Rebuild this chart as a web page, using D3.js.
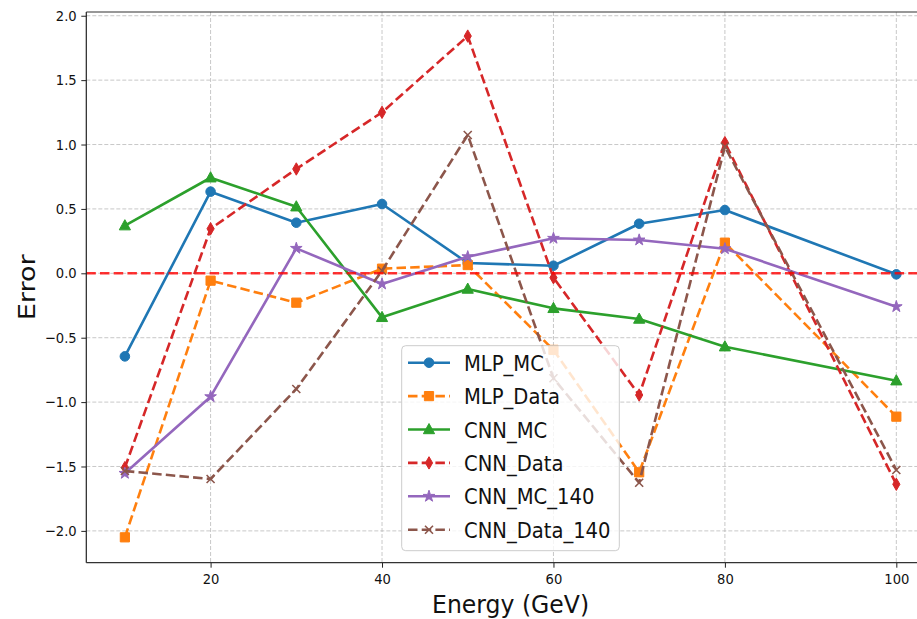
<!DOCTYPE html>
<html>
<head>
<meta charset="utf-8">
<script src="https://cdn.jsdelivr.net/npm/d3@7"></script>
<style>
  html, body { margin: 0; padding: 0; background: #fff; }
  svg { display: block; font-family: "DejaVu Sans", sans-serif; }
</style>
</head>
<body>
<svg id="chart" width="917" height="619"></svg>
<script>
// ---------------- data ----------------
const energies = [10, 20, 30, 40, 50, 60, 70, 80, 100];
const mlpMC       = [-0.645, 0.634, 0.393, 0.538, 0.080, 0.059, 0.385, 0.491, -0.008];
const mlpData     = [-2.050, -0.057, -0.228, 0.036, 0.064, -0.595, -1.545, 0.238, -1.113];
const cnnMC       = [0.370, 0.742, 0.517, -0.342, -0.122, -0.272, -0.355, -0.570, -0.834];
const cnnData     = [-1.509, 0.346, 0.810, 1.250, 1.842, -0.034, -0.945, 1.015, -1.638];
const cnnMC140    = [-1.553, -0.958, 0.194, -0.083, 0.129, 0.272, 0.259, 0.191, -0.259];
const cnnData140  = [-1.535, -1.597, -0.898, 0.020, 1.074, -0.815, -1.626, 0.983, -1.527];
const seriesNames = ["MLP_MC", "MLP_Data", "CNN_MC", "CNN_Data", "CNN_MC_140", "CNN_Data_140"];
const xTicks = [20, 40, 60, 80, 100];
const yTicks = [-2.0, -1.5, -1.0, -0.5, 0.0, 0.5, 1.0, 1.5, 2.0];
const xLabel = "Energy (GeV)";
const yLabel = "Error";

const seriesValues = [mlpMC, mlpData, cnnMC, cnnData, cnnMC140, cnnData140];
const colors = ["#1f77b4", "#ff7f0e", "#2ca02c", "#d62728", "#9467bd", "#8c564b"];
const dashed = [false, true, false, true, false, true];
const markers = ["circle", "square", "triangle", "thin_diamond", "star", "x"];

// ---------------- layout ----------------
const svg = d3.select("#chart");
const pLeft = 86.3, pRight = 934.9, pTop = 12, pBottom = 562.7;
const x = d3.scaleLinear().domain([5.5, 104.5]).range([pLeft, pRight]);
const y = d3.scaleLinear().domain([-2.247, 2.029]).range([pBottom, pTop]);
const SX = 0.9;

// grid
const grid = svg.append("g");
grid.selectAll(".gx").data(xTicks).join("line")
  .attr("x1", d => x(d)).attr("x2", d => x(d))
  .attr("y1", pTop).attr("y2", pBottom)
  .attr("stroke", "#b0b0b0").attr("stroke-opacity", 0.7)
  .attr("stroke-width", 1).attr("stroke-dasharray", "4,2");
grid.selectAll(".gy").data(yTicks).join("line")
  .attr("x1", pLeft).attr("x2", pRight)
  .attr("y1", d => y(d)).attr("y2", d => y(d))
  .attr("stroke", "#b0b0b0").attr("stroke-opacity", 0.7)
  .attr("stroke-width", 1).attr("stroke-dasharray", "4,2");

// marker generator
function markerPath(type) {
  switch (type) {
    case "circle": return d3.symbol(d3.symbolCircle, 72)();
    case "square": return "M-4.6,-4.6H4.6V4.6H-4.6Z";
    case "triangle": return "M0,-6L5.6,4.2H-5.6Z";
    case "thin_diamond": return "M0,-6.2L3.6,0L0,6.2L-3.6,0Z";
    case "star": return d3.symbol(d3.symbolStar, 42)();
    case "x": return "M-4,-4L4,4M-4,4L4,-4";
  }
}

const line = d3.line().x(d => x(d[0])).y(d => y(d[1]));
const plot = svg.append("g");
seriesValues.forEach((vals, i) => {
  const pts = energies.map((e, k) => [e, vals[k]]);
  const g = plot.append("g");
  g.append("path").datum(pts)
    .attr("d", line).attr("fill", "none")
    .attr("stroke", colors[i]).attr("stroke-width", 2.6)
    .attr("stroke-linejoin", "round")
    .attr("stroke-dasharray", dashed[i] ? "9.5,4.2" : null);
  g.selectAll("path.m").data(pts).join("path")
    .attr("class", "m")
    .attr("transform", d => `translate(${x(d[0])},${y(d[1])})`)
    .attr("d", markerPath(markers[i]))
    .attr("fill", markers[i] === "x" ? "none" : colors[i])
    .attr("stroke", colors[i])
    .attr("stroke-width", markers[i] === "x" ? 1.6 : 1);
});

// zero line
svg.append("line")
  .attr("x1", pLeft).attr("x2", pRight)
  .attr("y1", y(0)).attr("y2", y(0))
  .attr("stroke", "#ff0000").attr("stroke-opacity", 0.8)
  .attr("stroke-width", 2.6).attr("stroke-dasharray", "9.5,4.2");

// axes
const xAxis = svg.append("g").attr("transform", `translate(0,${pBottom})`)
  .call(d3.axisBottom(x).tickValues(xTicks).tickFormat(d3.format("d")).tickSize(5).tickPadding(6.3));
const yAxis = svg.append("g").attr("transform", `translate(${pLeft},0)`)
  .call(d3.axisLeft(y).tickValues(yTicks).tickFormat(d => d3.format(".1f")(d).replace("-", "\u2212")).tickSize(5));
[xAxis, yAxis].forEach(a => {
  a.select(".domain").remove();
  a.selectAll(".tick line").attr("stroke", "#222").attr("stroke-width", 1);
  a.selectAll("text").attr("font-size", "14.6px").attr("fill", "#111")
    .attr("font-family", "DejaVu Sans");
});
xAxis.selectAll("text").attr("transform", `scale(${SX},1)`);
yAxis.selectAll("text").attr("x", -9.6 / SX).attr("transform", `scale(${SX},1)`);

// spines
svg.append("line").attr("x1", pLeft).attr("x2", pLeft).attr("y1", pTop).attr("y2", pBottom)
  .attr("stroke", "#222").attr("stroke-width", 1.2);
svg.append("line").attr("x1", pLeft).attr("x2", pRight).attr("y1", pBottom).attr("y2", pBottom)
  .attr("stroke", "#333").attr("stroke-width", 1.2);
svg.append("line").attr("x1", pLeft).attr("x2", pRight).attr("y1", pTop).attr("y2", pTop)
  .attr("stroke", "#333").attr("stroke-width", 1.2);

// axis labels
svg.append("text").attr("x", 510.6).attr("y", 613.3)
  .attr("text-anchor", "middle").attr("font-size", "25px")
  .attr("textLength", 157).attr("lengthAdjust", "spacingAndGlyphs")
  .attr("fill", "#111").text(xLabel);
svg.append("text")
  .attr("transform", `translate(35,${(pTop + pBottom) / 2}) rotate(-90)`)
  .attr("text-anchor", "middle").attr("font-size", "22.5px")
  .attr("textLength", 66).attr("lengthAdjust", "spacingAndGlyphs")
  .attr("fill", "#111").text(yLabel);

// legend
const lg = svg.append("g");
lg.append("rect").attr("x", 401.7).attr("y", 345.7).attr("width", 217.6).attr("height", 205)
  .attr("rx", 4).attr("fill", "#fff").attr("fill-opacity", 0.8)
  .attr("stroke", "#cccccc").attr("stroke-width", 1);
seriesNames.forEach((name, i) => {
  const cy = 362.7 + i * 33.4;
  const row = lg.append("g");
  row.append("line").attr("x1", 408).attr("x2", 450).attr("y1", cy).attr("y2", cy)
    .attr("stroke", colors[i]).attr("stroke-width", 2.6)
    .attr("stroke-dasharray", dashed[i] ? "9.5,4.2" : null);
  row.append("path").attr("transform", `translate(429,${cy})`)
    .attr("d", markerPath(markers[i]))
    .attr("fill", markers[i] === "x" ? "none" : colors[i])
    .attr("stroke", colors[i]).attr("stroke-width", markers[i] === "x" ? 1.6 : 1);
  row.append("text").attr("transform", `translate(464,${cy + 8}) scale(0.91,1)`)
    .attr("font-size", "21.5px").attr("fill", "#111").text(name);
});
</script>
</body>
</html>
